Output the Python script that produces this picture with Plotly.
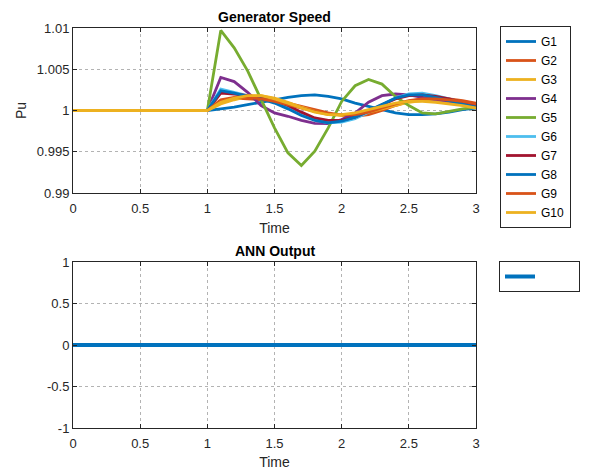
import plotly.graph_objects as go

# Simulation time samples (s)
time = [0, 0.9, 1.0, 1.1, 1.2, 1.3, 1.4, 1.5, 1.6, 1.7, 1.8, 1.9,
        2.0, 2.1, 2.2, 2.3, 2.4, 2.5, 2.6, 2.7, 2.8, 2.9, 3.0]

# Generator rotor speeds (pu)
g1 = [1, 1, 1, 1.0002, 1.0004, 1.0007, 1.0010, 1.0013, 1.0016, 1.0018, 1.0019, 1.0017,
      1.0014, 1.0009, 1.0005, 1.0001, 0.9997, 0.9995, 0.9995, 0.9996, 0.9998, 1.0001, 1.0003]
g2 = [1, 1, 1, 1.0011, 1.0015, 1.0014, 1.0013, 1.0012, 1.0009, 1.0005, 1.0001, 0.9997,
      0.9994, 0.9993, 0.9995, 1.0000, 1.0006, 1.0011, 1.0014, 1.0015, 1.0014, 1.0012, 1.0009]
g3 = [1, 1, 1, 1.0008, 1.0013, 1.0017, 1.0018, 1.0015, 1.0010, 1.0004, 0.9999, 0.9995,
      0.9994, 0.9995, 0.9998, 1.0002, 1.0006, 1.0010, 1.0012, 1.0012, 1.0010, 1.0007, 1.0004]
g4 = [1, 1, 1, 1.0040, 1.0035, 1.0022, 1.0006, 0.9997, 0.9993, 0.9988, 0.99845, 0.9984,
      0.9989, 0.9997, 1.0010, 1.0018, 1.0020, 1.0019, 1.0016, 1.0013, 1.0011, 1.0008, 1.0005]
g5 = [1, 1, 1, 1.0097, 1.0076, 1.0048, 1.0013, 0.9979, 0.99487, 0.99333, 0.99507, 0.9979,
      1.0011, 1.0030, 1.00376, 1.0032, 1.0017, 1.0006, 0.9997, 0.9996, 0.9999, 1.0002, 1.0004]
g6 = [1, 1, 1, 1.0026, 1.0022, 1.0018, 1.0015, 1.0010, 1.0003, 0.9995, 0.9989, 0.9985,
      0.9986, 0.9990, 0.9998, 1.0007, 1.0015, 1.0020, 1.0021, 1.0018, 1.0014, 1.0009, 1.0005]
g7 = [1, 1, 1, 1.0021, 1.0020, 1.0018, 1.0016, 1.0012, 1.0006, 0.9998, 0.9991, 0.9988,
      0.9988, 0.9992, 0.9999, 1.0007, 1.0014, 1.0018, 1.0019, 1.0017, 1.0014, 1.0010, 1.0007]
g8 = [1, 1, 1, 1.0024, 1.0021, 1.0017, 1.0014, 1.0009, 1.0002, 0.9994, 0.9988, 0.9985,
      0.9987, 0.9992, 1.0000, 1.0008, 1.0015, 1.0019, 1.0019, 1.0016, 1.0012, 1.0008, 1.0004]
g9 = [1, 1, 1, 1.0013, 1.0016, 1.0016, 1.0014, 1.0011, 1.0007, 1.0003, 0.9999, 0.9996,
      0.9995, 0.9995, 0.9998, 1.0003, 1.0008, 1.0012, 1.0014, 1.0014, 1.0013, 1.0011, 1.0008]
g10 = [1, 1, 1, 1.0010, 1.0015, 1.0018, 1.0018, 1.0014, 1.0009, 1.0003, 0.9998, 0.9995,
       0.9995, 0.9997, 1.0001, 1.0005, 1.0009, 1.0011, 1.0011, 1.0010, 1.0008, 1.0006, 1.0003]

gen_names = ["G1", "G2", "G3", "G4", "G5", "G6", "G7", "G8", "G9", "G10"]
gen_speeds = [g1, g2, g3, g4, g5, g6, g7, g8, g9, g10]

# Neural network controller output
ann_time = [0, 3]
ann_output = [0, 0]

speed_ticks = [0.99, 0.995, 1, 1.005, 1.01]
speed_tick_text = ["0.99", "0.995", "1", "1.005", "1.01"]
ann_ticks = [-1, -0.5, 0, 0.5, 1]
ann_tick_text = ["-1", "-0.5", "0", "0.5", "1"]
time_ticks = [0, 0.5, 1, 1.5, 2, 2.5, 3]
time_tick_text = ["0", "0.5", "1", "1.5", "2", "2.5", "3"]

colors = ["#0072BD", "#D95319", "#EDB120", "#7E2F8E", "#77AC30",
          "#4DBEEE", "#A2142F", "#0072BD", "#D95319", "#EDB120"]

FONT = "Liberation Sans, Arial, sans-serif"
W, H = 589, 473

fig = go.Figure()

for name, vals, col in zip(gen_names, gen_speeds, colors):
    fig.add_trace(go.Scatter(x=time, y=vals, name=name, mode="lines",
                             line=dict(color=col, width=2.8),
                             xaxis="x", yaxis="y", legend="legend"))

# unlabeled legend entry, padded with non-breaking spaces to widen the box
fig.add_trace(go.Scatter(x=ann_time, y=ann_output, name="\u00a0" * 10, mode="lines",
                         line=dict(color="#0072BD", width=4),
                         xaxis="x2", yaxis="y2", legend="legend2"))

x0, x1 = 73 / W, 476 / W
top_dom = [1 - 193 / H, 1 - 28 / H]
bot_dom = [1 - 428 / H, 1 - 262 / H]

axis_common = dict(
    showline=True, linecolor="#262626", linewidth=1, mirror="ticks",
    ticks="inside", ticklen=4, tickcolor="#262626",
    showgrid=True, gridcolor="rgba(38,38,38,0.35)", griddash="dot", gridwidth=1,
    zeroline=False, automargin=False,
    tickfont=dict(family=FONT, size=13, color="#262626"),
)

fig.update_layout(
    width=W, height=H,
    margin=dict(l=0, r=0, t=0, b=0, pad=0, autoexpand=False),
    paper_bgcolor="white", plot_bgcolor="white",
    font=dict(family=FONT, size=13, color="#262626"),
    xaxis=dict(domain=[x0, x1], range=[0, 3], anchor="y",
               tickvals=time_ticks, ticktext=time_tick_text, ticklabelstandoff=3,
               title=dict(text="Time", standoff=8, font=dict(size=14)),
               **axis_common),
    yaxis=dict(domain=top_dom, range=[0.99, 1.01], anchor="x",
               tickvals=speed_ticks, ticktext=speed_tick_text,
               title=dict(text="Pu", standoff=6, font=dict(size=14)),
               **axis_common),
    xaxis2=dict(domain=[x0, x1], range=[0, 3], anchor="y2",
                tickvals=time_ticks, ticktext=time_tick_text, ticklabelstandoff=3,
                title=dict(text="Time", standoff=7, font=dict(size=14)),
                **axis_common),
    yaxis2=dict(domain=bot_dom, range=[-1, 1], anchor="x2",
                tickvals=ann_ticks, ticktext=ann_tick_text,
                **axis_common),
    legend=dict(x=500 / W, y=1 - 26 / H, xanchor="left", yanchor="top",
                bgcolor="white", bordercolor="#262626", borderwidth=1,
                font=dict(family=FONT, size=12, color="black"),
                tracegroupgap=0, itemwidth=30),
    legend2=dict(x=499 / W, y=1 - 261 / H, xanchor="left", yanchor="top",
                 bgcolor="white", bordercolor="#262626", borderwidth=1,
                 font=dict(family=FONT, size=12, color="black")),
    annotations=[
        dict(text="<b>Generator Speed</b>", x=(x0 + x1) / 2, y=top_dom[1],
             xref="paper", yref="paper", xanchor="center", yanchor="bottom",
             yshift=1, showarrow=False, font=dict(family=FONT, size=14, color="black")),
        dict(text="<b>ANN Output</b>", x=(x0 + x1) / 2, y=bot_dom[1],
             xref="paper", yref="paper", xanchor="center", yanchor="bottom",
             yshift=1, showarrow=False, font=dict(family=FONT, size=14, color="black")),
    ],
)

fig.write_html("out.html")
